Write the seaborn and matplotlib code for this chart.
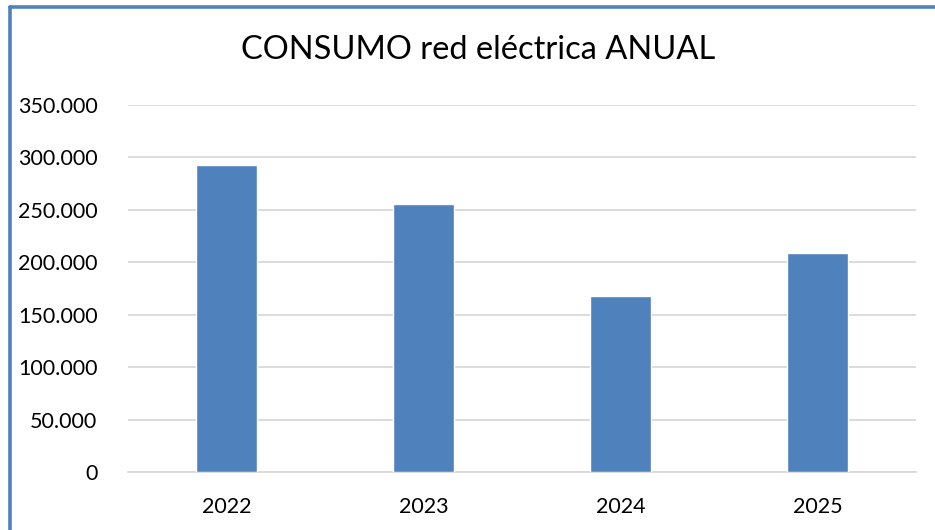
import matplotlib
matplotlib.use('Agg')
import matplotlib.pyplot as plt
import matplotlib.ticker as mticker
import seaborn as sns
import pandas as pd

years = ['2022', '2023', '2024', '2025']
consumo = [293000, 255500, 167500, 208500]

df = pd.DataFrame({'year': years, 'consumo': consumo})

sns.set_style('white')
plt.rcParams['font.family'] = ['Lato', 'DejaVu Sans']

fig = plt.figure(figsize=(9.35, 5.3), dpi=100)
ax = fig.add_axes([128 / 935, 1 - 472 / 530, (916 - 128) / 935, (472 - 105) / 530])

sns.barplot(data=df, x='year', y='consumo', color='#4F81BD', saturation=1,
            width=0.31, ax=ax, zorder=3)

ax.set_ylim(0, 350000)
ax.set_yticks(range(0, 350001, 50000))
ax.yaxis.set_major_formatter(mticker.FuncFormatter(
    lambda v, p: f'{int(v):,}'.replace(',', '.')))
ax.grid(axis='y', color='#D9D9D9', linewidth=1.3, zorder=0)
ax.set_axisbelow(True)
for s in ['top', 'right', 'left']:
    ax.spines[s].set_visible(False)
ax.spines['bottom'].set_color('#D9D9D9')
ax.spines['bottom'].set_linewidth(1.3)
ax.set_xlabel('')
ax.set_ylabel('')
ax.tick_params(axis='both', length=0, labelsize=15.5, colors='black')
ax.tick_params(axis='x', pad=18)
ax.tick_params(axis='y', pad=22)

fig.text(478 / 935, 1 - 50 / 530, 'CONSUMO red eléctrica ANUAL', ha='center',
         va='center', fontsize=23.5, color='black')

# blue frame, left and top edges
fig.add_artist(plt.Line2D([10 / 935, 10 / 935], [0, 1 - 7 / 530],
                          color='#4F81BD', linewidth=2.6, transform=fig.transFigure))
fig.add_artist(plt.Line2D([10 / 935, 1], [1 - 7 / 530, 1 - 7 / 530],
                          color='#4F81BD', linewidth=2.6, transform=fig.transFigure))

fig.savefig('out.png', dpi=100)
